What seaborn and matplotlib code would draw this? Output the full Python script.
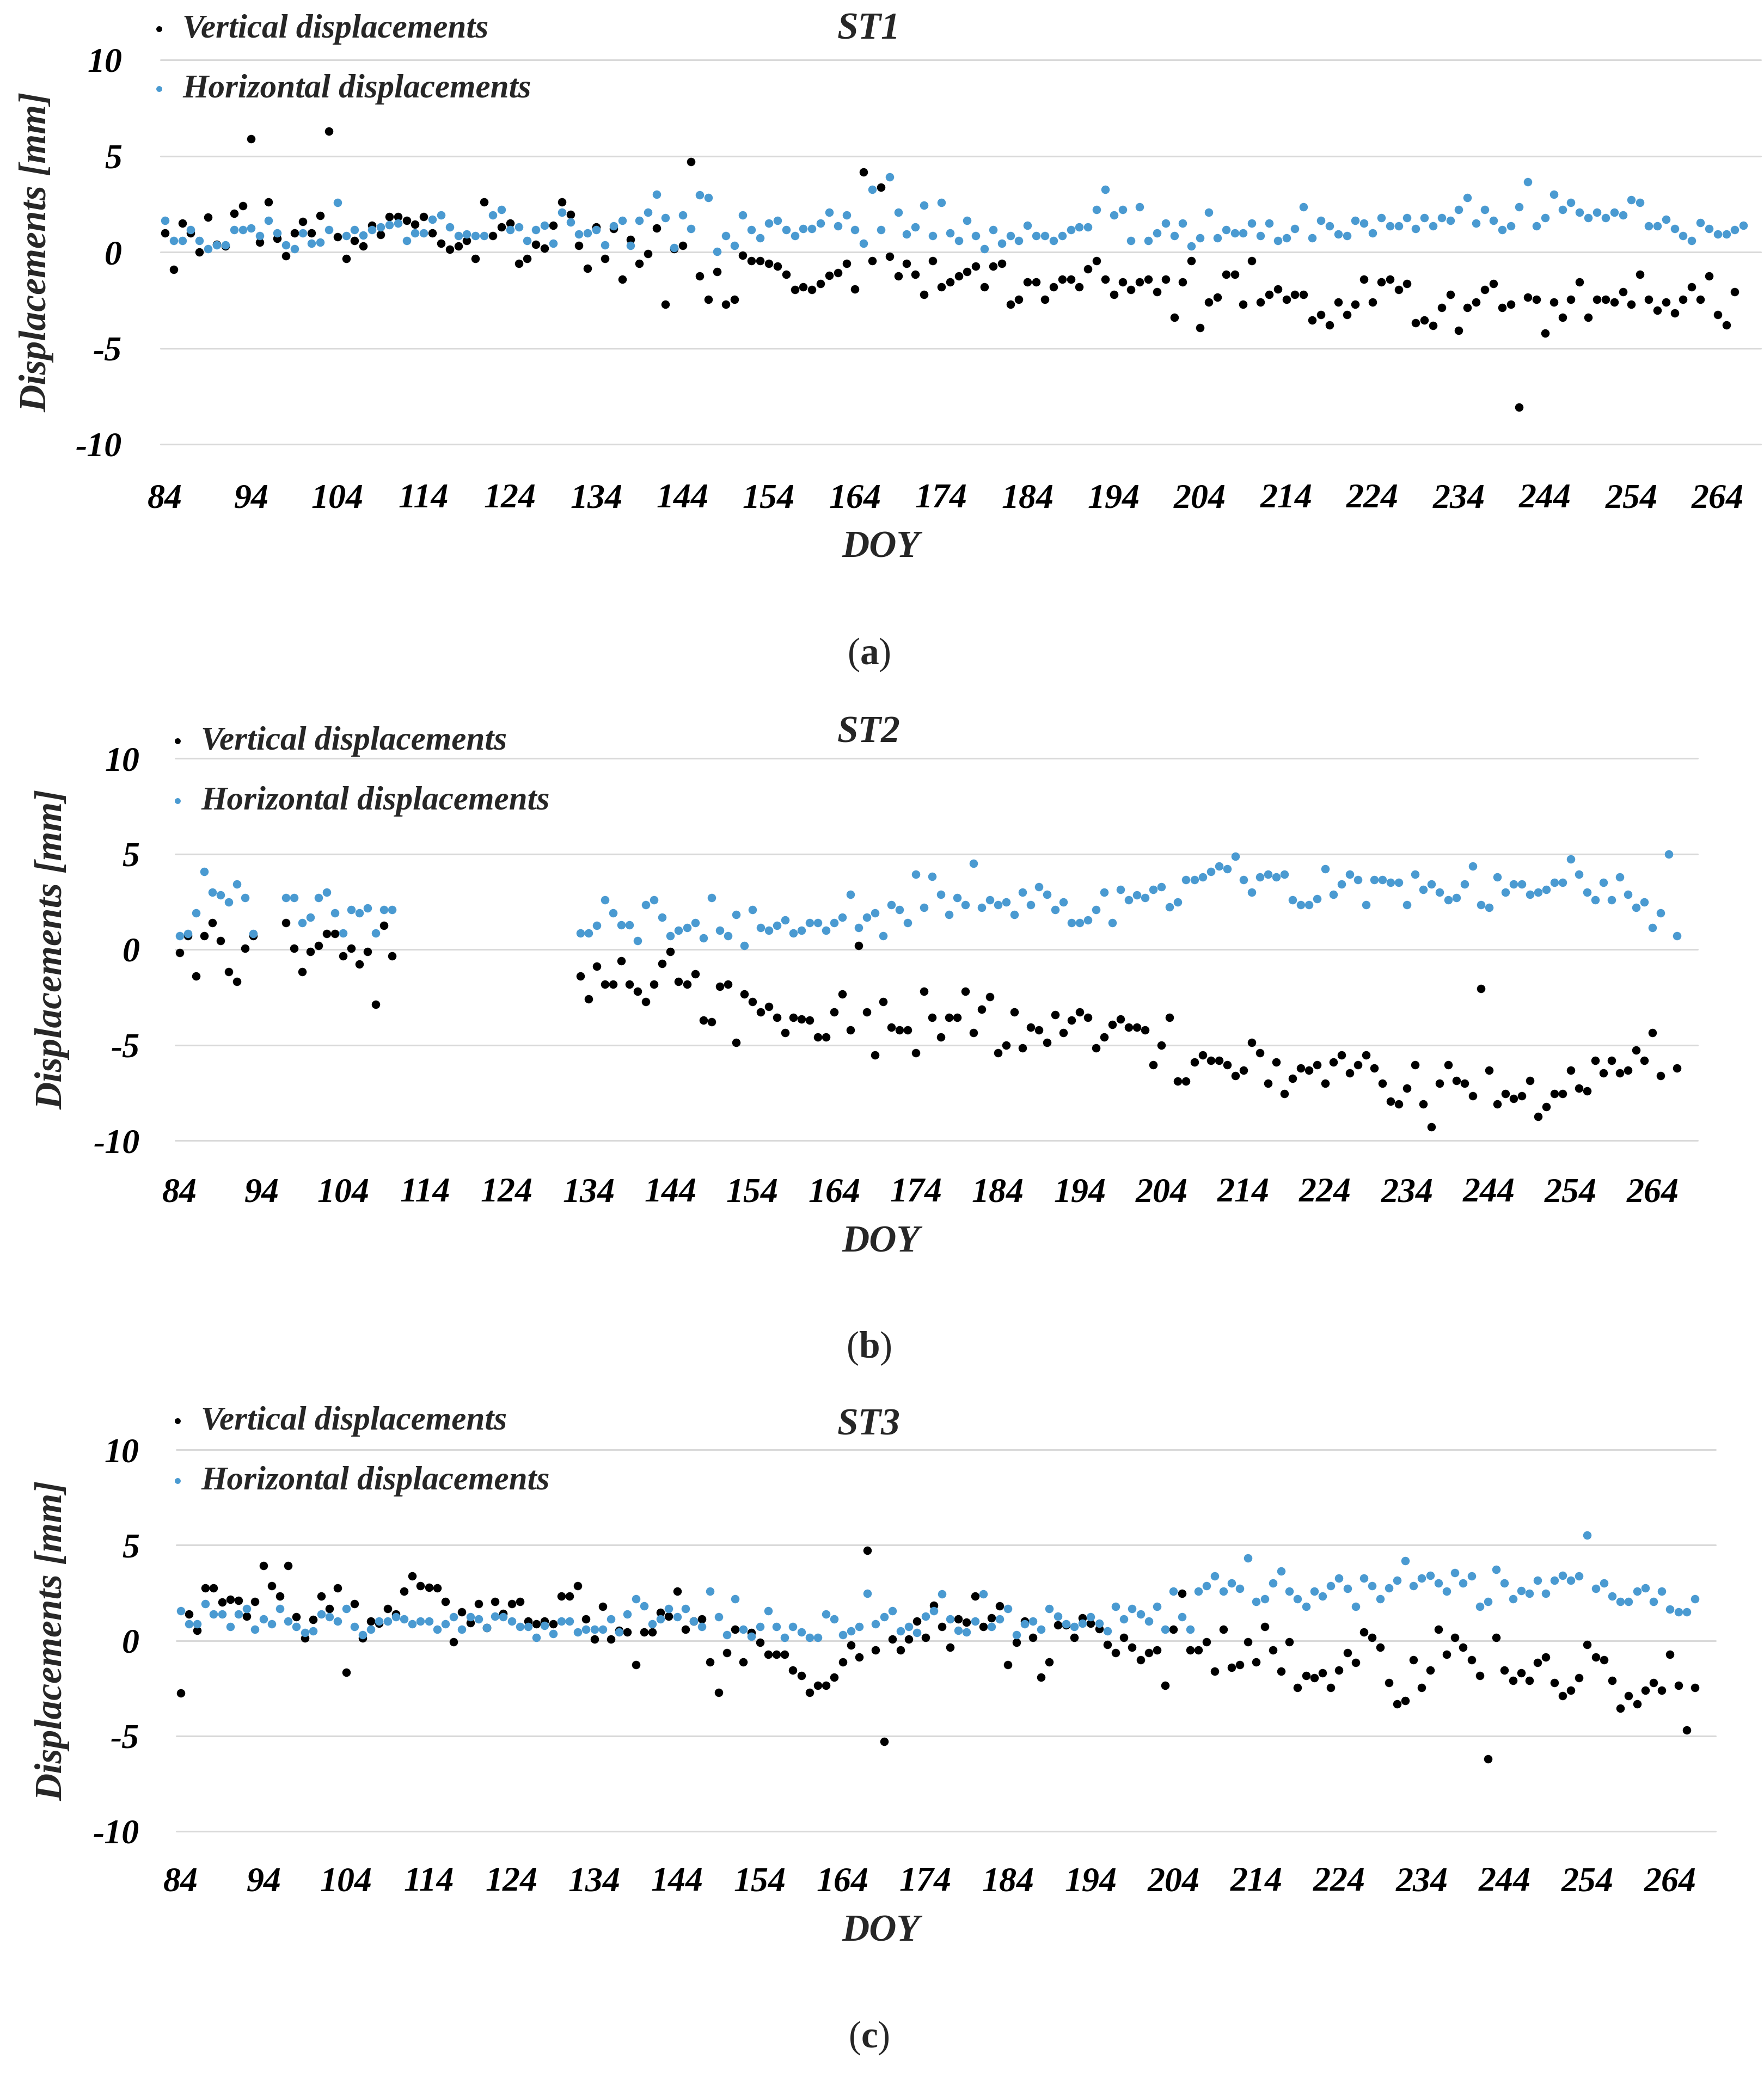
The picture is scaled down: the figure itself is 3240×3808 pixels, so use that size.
import numpy as np
import pandas as pd
import matplotlib
matplotlib.use("Agg")
import matplotlib.pyplot as plt
import seaborn as sns

nan = np.nan

# ---------------- data (DOY starts at 84, one value per day) ----------------
DOY_START = 84
X_TICKS = list(range(84, 265, 10))
Y_TICKS = [-10, -5, 0, 5, 10]
Y_TICK_LABELS = ["-10", "-5", "0", "5", "10"]
SERIES_NAMES = ["Vertical displacements", "Horizontal displacements"]
STATIONS = ["ST1", "ST2", "ST3"]
PANEL_TAGS = ["a", "b", "c"]

st1_vertical = [
    1.0, -0.9, 1.5, 1.0, 0.0, 1.8, 0.4, 0.3, 2.0, 2.4,
    5.9, 0.5, 2.6, 0.7, -0.2, 1.0, 1.6, 1.0, 1.9, 6.3,
    0.8, -0.35, 0.6, 0.3, 1.4, 0.9, 1.85, 1.85, 1.65, 1.45,
    1.85, 1.0, 0.45, 0.15, 0.3, 0.6, -0.35, 2.6, 0.85, 1.3,
    1.5, -0.6, -0.35, 0.4, 0.2, 1.4, 2.6,
    1.95, 0.34, -0.86, 1.29, -0.35, 1.22, -1.42, 0.66, -0.6, -0.08,
    1.25, -2.73, 0.17, 0.34, 4.7, -1.26, -2.47, -1.02, -2.73, -2.47,
    -0.18, -0.46, -0.46, -0.6, -0.74, -1.16, -1.96, -1.8, -1.96, -1.65,
    -1.23, -1.09, -0.6, -1.94, 4.17, -0.46, 3.37, -0.22, -1.26, -0.6,
    -1.16, -2.2, -0.46, -1.82, -1.56, -1.26, -1.02, -0.74, -1.82, -0.74,
    -0.6, -2.73, -2.47, -1.56, -1.56, -2.47, -1.82, -1.42, -1.42, -1.82,
    -0.88, -0.46, -1.42, -2.2, -1.56, -1.96, -1.56, -1.42, -2.08, -1.42,
    -3.41, -1.56, -0.46, -3.93, -2.61, -2.36, -1.16, -1.16, -2.73, -0.46,
    -2.61, -2.2, -1.94, -2.47, -2.2, -2.2, -3.55, -3.27, -3.8, -2.61,
    -3.27, -2.73, -1.42, -2.61, -1.56, -1.42, -1.96, -1.65, -3.69, -3.55,
    -3.83, -2.88, -2.2, -4.07, -2.88, -2.61, -1.96, -1.65, -2.88, -2.73,
    -8.08, -2.36, -2.47, -4.21, -2.61, -3.41, -2.47, -1.56, -3.41, -2.47,
    -2.47, -2.61, -2.08, -2.73, -1.16, -2.47, -3.02, -2.61, -3.16, -2.47,
    -1.82, -2.47, -1.26, -3.27, -3.8, -2.08, nan,
]
st1_horizontal = [
    1.64, 0.59, 0.59, 1.15, 0.59, 0.17, 0.38, 0.38, 1.15, 1.15,
    1.26, 0.84, 1.64, 1.0, 0.38, 0.17, 1.0, 0.45, 0.52, 1.15,
    2.58, 0.84, 1.15, 0.87, 1.15, 1.29, 1.43, 1.5, 0.59, 1.0,
    1.0, 1.7, 1.92, 1.29, 0.84, 0.94, 0.84, 0.84, 1.92, 2.2,
    1.15, 1.29, 0.59, 1.15, 1.4, 0.45, 2.06,
    1.57, 0.94, 1.0, 1.15, 0.38, 1.36, 1.64, 0.34, 1.64, 2.06,
    3.0, 1.78, 0.24, 1.92, 1.22, 2.97, 2.83, 0.03, 0.84, 0.34,
    1.92, 1.15, 0.73, 1.5, 1.64, 1.15, 0.84, 1.22, 1.22, 1.5,
    2.06, 1.36, 1.92, 1.15, 0.45, 3.25, 1.15, 3.9, 2.06, 0.94,
    1.29, 2.44, 0.84, 2.58, 1.0, 0.59, 1.64,
    0.84, 0.17, 1.15, 0.45, 0.84, 0.59, 1.4, 0.84, 0.84, 0.59,
    0.84, 1.15, 1.29, 1.29, 2.2, 3.25, 1.92, 2.2, 0.59, 2.34,
    0.59, 1.0, 1.5, 0.84, 1.5, 0.31, 0.73, 2.06, 0.73, 1.15,
    1.0, 1.0, 1.5, 0.84, 1.5, 0.59, 0.73, 1.22, 2.34, 0.73,
    1.64, 1.36, 0.94, 0.84, 1.64, 1.5, 1.0,
    1.78, 1.36, 1.36, 1.78, 1.22, 1.78, 1.36, 1.78, 1.64, 2.2,
    2.83, 1.5, 2.2, 1.64, 1.15, 1.36, 2.34, 3.65, 1.36, 1.78,
    3.0, 2.2, 2.58, 2.06, 1.78, 2.06, 1.78, 2.06, 1.92, 2.72,
    2.58, 1.36, 1.36, 1.71, 1.22, 0.84, 0.59, 1.54, 1.22, 0.94,
    0.94, 1.15, 1.4,
]

st2_vertical = (
    [-0.18, 0.72, -1.39, 0.72, 1.39, 0.46, -1.16, -1.67, 0.07, 0.72]
    + [nan] * 3
    + [1.39, 0.07, -1.16, -0.1, 0.21, 0.84, 0.84, -0.35, 0.07, -0.77, -0.1, -2.88, 1.25, -0.35]
    + [nan] * 22
    + [-1.39, -2.6, -0.88, -1.81, -1.81, -0.6, -1.81, -2.2, -2.74, -1.81,
       -0.74, -0.1, -1.67, -1.81, -1.28, -3.69, -3.79, -1.95, -1.81, -4.87,
       -2.34, -2.74, -3.27, -2.99, -3.55, -4.35, -3.55, -3.65, -3.69, -4.6,
       -4.6, -3.27, -2.34, -4.21, 0.21, -3.27, -5.54, -2.74, -4.07, -4.21,
       -4.21, -5.4, -2.2, -3.55,
       -4.6, -3.55, -3.55, -2.2, -4.35, -3.13, -2.47, -5.4, -5.01, -3.27,
       -5.15, -4.07, -4.21, -4.87, -3.41, -4.35, -3.69, -3.27, -3.55, -5.15,
       -4.6, -3.93, -3.65, -4.07, -4.07, -4.21, -6.05, -5.01, -3.55, -6.89,
       -6.89, -5.91, -5.54, -5.8, -5.8, -6.05, -6.6, -6.32, -4.87, -5.4,
       -7.0, -5.91, -7.55, -6.75, -6.2, -6.32, -6.05,
       -7.0, -5.91, -5.54, -6.46, -6.05, -5.54, -6.2, -7.0, -7.94, -8.08,
       -7.27, -6.05, -8.08, -9.29, -7.0, -6.05, -6.86, -7.0, -7.66, -2.06,
       -6.32, -8.08, -7.55, -7.8, -7.66, -6.86, -8.74, -8.22, -7.55, -7.55,
       -6.32, -7.27, -7.41, -5.8, -6.46, -5.8, -6.46, -6.32, -5.26, -5.8,
       -4.35, -6.6, nan, -6.2]
)
st2_horizontal = (
    [0.72, 0.84, 1.92, 4.07, 3.0, 2.86, 2.48, 3.42, 2.72, 0.84]
    + [nan] * 3
    + [2.72, 2.72, 1.39, 1.67, 2.72, 3.0, 1.92, 0.86, 2.09, 1.92, 2.16, 0.86, 2.09, 2.09]
    + [nan] * 22
    + [0.86, 0.86, 1.25, 2.6, 1.92, 1.28, 1.28, 0.46, 2.34, 2.6,
       1.67, 0.72, 1.0, 1.14, 1.39, 0.6, 2.72, 1.0, 0.72, 1.81,
       0.21, 2.09, 1.14, 1.0, 1.25, 1.53, 0.86, 1.0, 1.39, 1.39,
       1.0, 1.39, 1.67, 2.88, 1.14, 1.67, 1.92, 0.72, 2.34, 2.09,
       1.39, 3.93, 2.2, 3.83,
       2.88, 1.81, 2.72, 2.34, 4.49, 2.2, 2.6, 2.34, 2.48, 1.81,
       3.0, 2.34, 3.27, 2.88, 2.09, 2.48, 1.39, 1.39, 1.53, 2.09,
       3.0, 1.39, 3.13, 2.6, 2.86, 2.72, 3.13, 3.27, 2.23, 2.48,
       3.66, 3.66, 3.79, 4.08, 4.35, 4.21, 4.87, 3.66, 3.0, 3.79,
       3.93, 3.79, 3.93, 2.6, 2.34, 2.34, 2.65,
       4.21, 2.88, 3.41, 3.93, 3.66, 2.34, 3.66, 3.66, 3.51, 3.51,
       2.34, 3.93, 3.13, 3.41, 3.0, 2.6, 2.72, 3.41, 4.35, 2.34,
       2.2, 3.8, 3.0, 3.41, 3.41, 2.88, 3.0, 3.13, 3.51, 3.51,
       4.73, 3.93, 3.0, 2.6, 3.51, 2.6, 3.8, 2.88, 2.2, 2.48,
       1.14, 1.92, 5.0, 0.72]
)

st3_vertical = [
    -2.76, 1.38, 0.52, 2.75, 2.75, 2.02, 2.16, 2.1, 1.28, 2.05,
    3.93, 2.86, 2.33, 3.93, 1.24, 0.13, 1.11, 2.33, 1.66, 2.75,
    -1.67, 1.94, 0.13, 1.0, 0.9, 1.66, 1.38, 2.58, 3.37, 2.88,
    2.77, 2.75, 2.05, -0.07, 1.5, 0.93, 1.94, 0.68, 2.05, 1.42,
    1.94, 2.05, 1.0, 0.86, 1.0,
    0.86, 2.33, 2.33, 2.86, 1.14, 0.07, 1.77, 0.07, 0.54, 0.45,
    -1.27, 0.45, 0.45, 1.46, 1.28, 2.58, 0.59, 1.0, 1.14, -1.13,
    -2.72, -0.63, 0.59, -1.13, 0.4, -0.11, -0.74, -0.74, -0.74, -1.55,
    -1.83, -2.72, -2.34, -2.34, -1.92, -1.13, -0.25, -0.88, 4.72, -0.49,
    -5.3, 0.07, -0.49, 0.07, 1.0, 0.17,
    1.84, 0.72, -0.35, 1.14, 0.96, 2.33, 0.72, 1.18, 1.8, -1.27,
    -0.11, 1.0, 0.17, -1.92, -1.13, 0.82, 0.8, 0.17, 1.18, 0.91,
    0.6, -0.21, -0.63, 0.17, -0.35, -1.02, -0.63, -0.49, -2.34, 0.59,
    2.47, -0.49, -0.49, -0.07, -1.62, 0.59, -1.41, -1.27, -0.07, -1.13,
    0.72, -0.49, -1.62, -0.07, -2.48, -1.83,
    -1.96, -1.69, -2.48, -1.55, -0.63, -1.16, 0.45, 0.17, -0.35, -2.2,
    -3.32, -3.14, -1.02, -2.48, -1.55, 0.59, -0.74, 0.17, -0.35, -1.02,
    -1.83, -6.2, 0.17, -1.55, -2.1, -1.69, -2.1, -1.16, -0.88, -2.2,
    -2.9, -2.62, -1.96, -0.21, -0.88, -1.02, -2.1, -3.55, -2.9, -3.32,
    -2.62, -2.2, -2.62, -0.74, -2.34, -4.68, -2.48,
]
st3_horizontal = [
    1.56, 0.86, 0.86, 1.94, 1.38, 1.38, 0.72, 1.38, 1.66, 0.59,
    1.14, 0.86, 1.66, 1.0, 0.72, 0.4, 0.49, 1.38, 1.24, 1.0,
    1.66, 0.72, 0.31, 0.59, 1.0, 1.0, 1.24, 1.14, 0.86, 1.0,
    1.0, 0.59, 0.86, 1.24, 0.59, 1.24, 1.14, 0.66, 1.28, 1.24,
    1.0, 0.72, 0.72, 0.17, 0.79,
    0.35, 1.0, 1.0, 0.45, 0.59, 0.59, 0.59, 1.14, 0.45, 1.38,
    2.19, 1.8, 0.86, 1.14, 1.66, 1.24, 1.66, 1.0, 0.72, 2.58,
    1.24, 0.31, 2.19, 0.59, 0.21, 0.72, 1.56, 0.72, 0.17, 0.72,
    0.45, 0.17, 0.17, 1.38, 1.14, 0.31, 0.49, 0.72, 2.47, 0.86,
    1.24, 1.56, 0.49, 0.72, 0.4, 1.28,
    1.56, 2.44, 1.14, 0.52, 0.45, 1.0, 2.44, 0.72, 1.14, 1.66,
    0.31, 0.86, 1.0, 0.59, 1.66, 1.28, 0.86, 0.72, 0.91, 1.24,
    0.91, 0.49, 1.77, 1.14, 1.66, 1.38, 1.0, 1.77, 0.59, 2.58,
    1.24, 0.59, 2.58, 2.86, 3.37, 2.58, 3.0, 2.72, 4.31, 2.05,
    2.19, 3.0, 3.65, 2.58, 2.19, 1.77,
    2.58, 2.33, 2.86, 3.28, 2.72, 1.77, 3.28, 2.86, 2.19, 2.75,
    3.14, 4.17, 2.86, 3.28, 3.42, 3.0, 2.58, 3.55, 3.0, 3.37,
    1.77, 2.05, 3.72, 3.0, 2.19, 2.61, 2.47, 3.14, 2.47, 3.14,
    3.42, 3.14, 3.37, 5.53, 2.72, 3.0, 2.33, 2.05, 2.05, 2.58,
    2.75, 2.05, 2.58, 1.63, 1.49, 1.49, 2.19,
]

VERTICAL = [st1_vertical, st2_vertical, st3_vertical]
HORIZONTAL = [st1_horizontal, st2_horizontal, st3_horizontal]

# ---------------- style ----------------
sns.set_theme(style="white")
plt.rcParams["font.family"] = ["Liberation Serif", "DejaVu Serif"]
plt.rcParams["axes.unicode_minus"] = False
plt.rcParams["mathtext.fontset"] = "custom"
plt.rcParams["mathtext.bf"] = "Liberation Serif:bold"
plt.rcParams["mathtext.rm"] = "Liberation Serif"

BLACK = "#000000"
BLUE = "#4A9AD1"
GRID = "#D9D9D9"
W, H = 3240, 3808

TXT = dict(style="italic", weight="bold")
TICK_FS = 46
LABEL_FS = 50
LEG_FS = 44
MARK_S = 125

# layout in pixel coordinates (left, top, right, bottom) + text anchors
LAYOUT = [
    dict(rect=(295, 110, 3234, 816), xlim=(83.5, 269.0), ylab_x=68, ytick_pad=51,
         xtick_pad=73, title_y=54, leg=(280, 26), doy_y=1006, tag_y=1203),
    dict(rect=(322, 1393, 3118, 2095), xlim=(83.5, 269.5), ylab_x=97, ytick_pad=47,
         xtick_pad=70, title_y=1347, leg=(314, 1334), doy_y=2283, tag_y=2477),
    dict(rect=(324, 2663, 3151, 3364), xlim=(83.5, 269.5), ylab_x=97, ytick_pad=49,
         xtick_pad=68, title_y=2619, leg=(314, 2583), doy_y=3549, tag_y=3744),
]


def fx(px):
    return px / W


def fy(py):
    return 1.0 - py / H


fig = plt.figure(figsize=(W / 100, H / 100), dpi=100)
fig.patch.set_facecolor("white")

for i in range(3):
    lay = LAYOUT[i]
    l, t, r, b = lay["rect"]
    ax = fig.add_axes([fx(l), fy(b), (r - l) / W, (b - t) / H])
    n = len(VERTICAL[i])
    df = pd.DataFrame({
        "DOY": np.arange(DOY_START, DOY_START + n),
        SERIES_NAMES[0]: VERTICAL[i],
        SERIES_NAMES[1]: HORIZONTAL[i],
    })
    sns.scatterplot(data=df, x="DOY", y=SERIES_NAMES[0], color=BLACK, s=MARK_S,
                    linewidth=0, ax=ax, label=SERIES_NAMES[0], zorder=3)
    sns.scatterplot(data=df, x="DOY", y=SERIES_NAMES[1], color=BLUE, s=MARK_S,
                    linewidth=0, ax=ax, label=SERIES_NAMES[1], zorder=4)

    ax.set_xlim(*lay["xlim"])
    ax.set_ylim(-10, 10)
    ax.set_xlabel("")
    ax.set_ylabel("")
    for sp in ax.spines.values():
        sp.set_visible(False)
    ax.set_xticks(X_TICKS)
    ax.set_xticklabels([str(v) for v in X_TICKS], fontsize=TICK_FS, **TXT)
    ax.set_yticks(Y_TICKS)
    ax.set_yticklabels(Y_TICK_LABELS, fontsize=TICK_FS, **TXT)
    ax.tick_params(axis="both", length=0, colors="black")
    ax.tick_params(axis="x", pad=lay["xtick_pad"])
    ax.tick_params(axis="y", pad=lay["ytick_pad"])
    for lbl in ax.get_xticklabels():
        lbl.set_verticalalignment("center")
    ax.yaxis.grid(True, color=GRID, linewidth=2.2)
    ax.xaxis.grid(False)
    ax.set_axisbelow(True)
    for gl in ax.get_ygridlines():
        gl.set_clip_on(False)

    lx, ly = lay["leg"]
    ax.legend(loc="upper left", bbox_to_anchor=(fx(lx), fy(ly)),
              bbox_transform=fig.transFigure, frameon=False,
              prop=dict(family="Liberation Serif", size=LEG_FS, **TXT),
              handlelength=0.4, handletextpad=0.5, labelspacing=0.88,
              borderpad=0, borderaxespad=0, markerscale=0.7)

    fig.text(fx(lay["ylab_x"]), fy((t + b) / 2), "Displacements [mm]", rotation=90,
             ha="center", va="center", fontsize=LABEL_FS, **TXT)
    fig.text(fx(1596), fy(lay["title_y"]), STATIONS[i], ha="center", va="center",
             fontsize=LABEL_FS, **TXT)
    fig.text(fx(1618), fy(lay["doy_y"]), "DOY", ha="center", va="center",
             fontsize=LABEL_FS, **TXT)
    fig.text(fx(1596), fy(lay["tag_y"]), "($\\mathbf{%s}$)" % PANEL_TAGS[i],
             ha="center", va="center", fontsize=LABEL_FS)

fig.savefig("out.png", dpi=100, facecolor="white")
